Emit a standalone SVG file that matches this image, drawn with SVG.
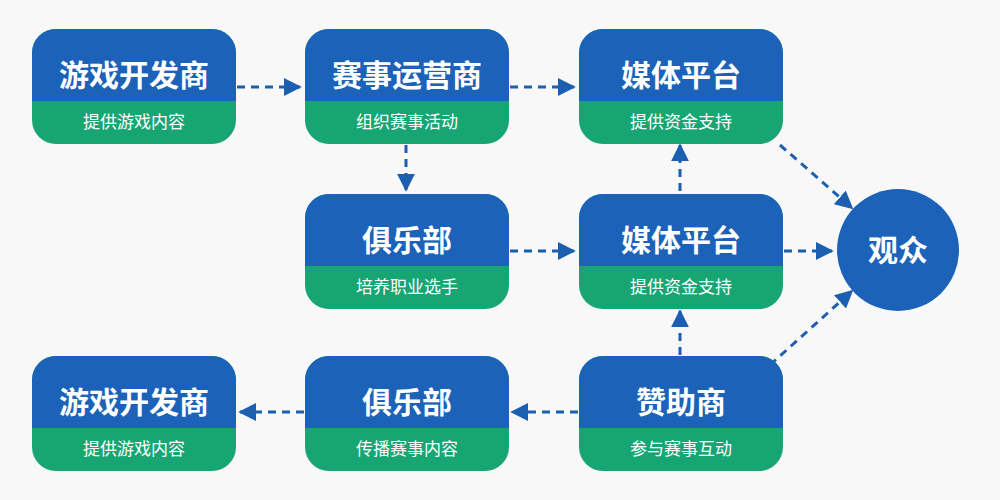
<svg xmlns="http://www.w3.org/2000/svg" width="1000" height="500" viewBox="0 0 1000 500">
<defs>
<style>
.b{fill:#1c62b8}.g{fill:#17a574}
.t{font-family:"Noto Sans CJK SC",sans-serif;font-weight:bold;font-size:30px;fill:#fff;text-anchor:middle}
.s{font-family:"Noto Sans CJK SC",sans-serif;font-size:17px;fill:#fff;text-anchor:middle}
.c{stroke:#1c5fb0;stroke-width:3;stroke-dasharray:8 6;fill:none;marker-end:url(#a)}
</style>
<marker id="a" viewBox="0 0 10 10" refX="9" refY="5" markerWidth="7" markerHeight="7" markerUnits="userSpaceOnUse" orient="auto"><path d="M0,0L10,5L0,10z" fill="#1c5fb0"/></marker>
<marker id="a2" viewBox="0 0 10 10" refX="9" refY="5" markerWidth="6" markerHeight="6" orient="auto"><path d="M0,0L10,5L0,10z" fill="#1c5fb0"/></marker>
<clipPath id="k"><rect x="0" y="0" width="204" height="115" rx="24"/></clipPath>
<g id="box"><g clip-path="url(#k)"><rect class="g" width="204" height="115"/><rect class="b" width="204" height="72"/></g></g>
</defs>
<rect width="1000" height="500" fill="#f7f8f7"/>
<g id="connectors">
<path class="c" d="M237 87H300" style="marker-end:url(#a2)"/>
<path class="c" d="M510 87H574" style="marker-end:url(#a2)"/>
<path class="c" d="M406 145V190" style="marker-end:url(#a2)"/>
<path class="c" d="M510 251H574" style="marker-end:url(#a2)"/>
<path class="c" d="M680 191V145" style="marker-end:url(#a2)"/>
<path class="c" d="M680 355V311" style="marker-end:url(#a2)"/>
<path class="c" d="M784 251H832" style="marker-end:url(#a2)"/>
<path class="c" d="M780 145L852 208" style="marker-end:url(#a2)"/>
<path class="c" d="M770 365L852 291" style="marker-end:url(#a2)"/>
<path class="c" d="M578 412H512" style="marker-end:url(#a2)"/>
<path class="c" d="M304 412H240" style="marker-end:url(#a2)"/>
</g>
<g id="n1" transform="translate(32,29)"><use href="#box"/><text class="t" x="102" y="57">游戏开发商</text><text class="s" x="102" y="99">提供游戏内容</text></g>
<g id="n2" transform="translate(305,29)"><use href="#box"/><text class="t" x="102" y="57">赛事运营商</text><text class="s" x="102" y="99">组织赛事活动</text></g>
<g id="n3" transform="translate(579,29)"><use href="#box"/><text class="t" x="102" y="57">媒体平台</text><text class="s" x="102" y="99">提供资金支持</text></g>
<g id="n4" transform="translate(305,194)"><use href="#box"/><text class="t" x="102" y="57">俱乐部</text><text class="s" x="102" y="99">培养职业选手</text></g>
<g id="n5" transform="translate(579,194)"><use href="#box"/><text class="t" x="102" y="57">媒体平台</text><text class="s" x="102" y="99">提供资金支持</text></g>
<g id="n6" transform="translate(32,356)"><use href="#box"/><text class="t" x="102" y="57">游戏开发商</text><text class="s" x="102" y="99">提供游戏内容</text></g>
<g id="n7" transform="translate(305,356)"><use href="#box"/><text class="t" x="102" y="57">俱乐部</text><text class="s" x="102" y="99">传播赛事内容</text></g>
<g id="n8" transform="translate(579,356)"><use href="#box"/><text class="t" x="102" y="57">赞助商</text><text class="s" x="102" y="99">参与赛事互动</text></g>
<g id="n9"><circle class="b" cx="898" cy="250" r="61"/><text class="t" x="898" y="261">观众</text></g>
</svg>
